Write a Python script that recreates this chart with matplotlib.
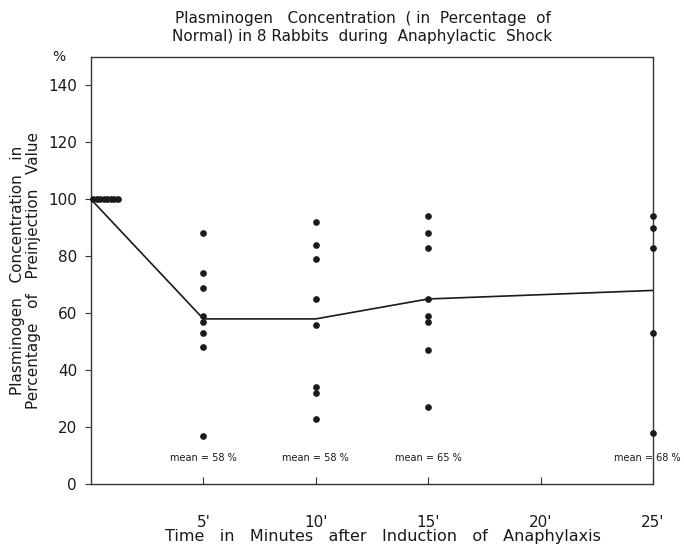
import matplotlib
matplotlib.use("Agg")
import matplotlib.pyplot as plt
import numpy as np

# ─── Data ──────────────────────────────────────────────────
times = [5, 10, 15, 25]
values_5 = [88, 74, 69, 59, 57, 53, 48, 17]
values_10 = [92, 84, 79, 65, 56, 34, 32, 23]
values_15 = [94, 88, 83, 65, 59, 57, 47, 27]
values_25 = [94, 90, 83, 53, 18]
baseline = [100] * 8

mean_t = [0, 5, 10, 15, 25]
mean_v = [100, 58, 58, 65, 68]
mean_labels = ["mean = 58 %", "mean = 58 %", "mean = 65 %", "mean = 68 %"]

xticks = [5, 10, 15, 20, 25]
xticklabels = ["5'", "10'", "15'", "20'", "25'"]
yticks = [0, 20, 40, 60, 80, 100, 120, 140]

plt.rcParams["font.family"] = ["DejaVu Sans"]

fig = plt.figure(figsize=(6.84, 5.48), dpi=100)
ax = fig.add_axes([91 / 684, 1 - 484 / 548, (653 - 91) / 684, (484 - 57) / 548])

ink = "#1a1a1a"

# baseline dots drawn side by side at t=0
base_x = 0.1 + np.arange(len(baseline)) * 0.155
ax.plot(base_x, baseline, "o", color=ink, ms=3.8, clip_on=False, zorder=3)

for t, vals in zip(times, [values_5, values_10, values_15, values_25]):
    ax.plot([t] * len(vals), vals, "o", color=ink, ms=3.8, clip_on=False, zorder=3)

ax.plot(mean_t, mean_v, "-", color=ink, lw=1.2, clip_on=False)

for i, (t, lab) in enumerate(zip(times, mean_labels)):
    last = i == len(times) - 1
    # last label sits against the right edge of the picture
    ax.text(t + 1.25 if last else t, 9, lab, ha="right" if last else "center",
            va="center", fontsize=7.0, color=ink, clip_on=False)

ax.set_xlim(0, 25)
ax.set_ylim(0, 150)
for s in ax.spines.values():
    s.set_color("#333333")
    s.set_linewidth(1.0)

ax.set_xticks(xticks)
ax.set_xticklabels(xticklabels, fontsize=11, color=ink)
ax.tick_params(axis="x", direction="in", length=5, pad=22, color="#333333")
ax.set_yticks(yticks)
ax.set_yticklabels([str(v) for v in yticks], fontsize=11, color=ink)
ax.tick_params(axis="y", direction="out", length=4, pad=6, color="#333333")
ax.text(-0.045, 150, "%", transform=ax.get_yaxis_transform(), ha="right",
        va="center", fontsize=10, color=ink)

fig.text(0.56, 1 - 537 / 548,
         "Time   in   Minutes   after   Induction   of   Anaphylaxis",
         ha="center", va="center", fontsize=11.5, color=ink)
ax.set_ylabel("Plasminogen   Concentration   in\n"
              "Percentage   of   Preinjection   Value",
              fontsize=11, color=ink, labelpad=5, linespacing=1.1)

fig.suptitle("Plasminogen   Concentration  ( in  Percentage  of\n"
             "Normal) in 8 Rabbits  during  Anaphylactic  Shock",
             x=0.53, y=0.98, fontsize=11, color=ink, linespacing=1.25)

fig.savefig("out.png", dpi=100)
